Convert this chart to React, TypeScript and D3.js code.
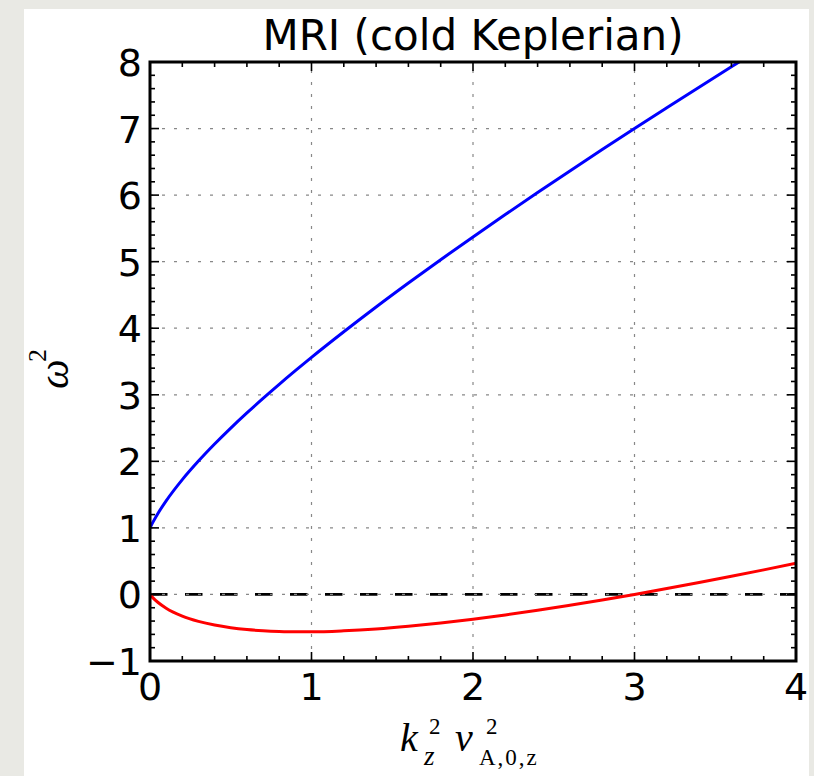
import * as d3 from 'd3';
import React, { useEffect, useRef } from 'react';

// k_z^2 v_A^2 sample points
const kBlue = [0, 0.02, 0.05, 0.1, 0.2, 0.3, 0.4, 0.5, 0.6, 0.7, 0.8, 0.9, 1.0, 1.2, 1.4, 1.6, 1.8, 2.0, 2.2, 2.4, 2.6, 2.8, 3.0, 3.2, 3.4, 3.6, 3.8];
const omegaBlue = [1.0, 1.094, 1.221, 1.406, 1.725, 2.004, 2.26, 2.5, 2.728, 2.946, 3.157, 3.362, 3.562, 3.947, 4.319, 4.679, 5.03, 5.372, 5.708, 6.038, 6.363, 6.684, 7.0, 7.312, 7.622, 7.928, 8.231];

const kRed = [0, 0.02, 0.05, 0.1, 0.2, 0.3, 0.4, 0.5, 0.6, 0.7, 0.8, 0.9, 1.0, 1.2, 1.4, 1.6, 1.8, 2.0, 2.2, 2.4, 2.6, 2.8, 3.0, 3.2, 3.4, 3.6, 3.8, 4.0];
const omegaRed = [0, -0.055, -0.121, -0.206, -0.325, -0.404, -0.46, -0.5, -0.528, -0.546, -0.557, -0.562, -0.562, -0.547, -0.519, -0.479, -0.43, -0.372, -0.308, -0.239, -0.163, -0.084, 0, 0.088, 0.178, 0.272, 0.369, 0.469];

const xTicks = [0, 1, 2, 3, 4];
const yTicks = [-1, 0, 1, 2, 3, 4, 5, 6, 7, 8];

const fmt = (v: number) => (v < 0 ? '\u2212' + Math.abs(v) : String(v));

const Chart = () => {
  const ref = useRef<SVGSVGElement>(null);

  useEffect(() => {
    const svg = d3.select(ref.current);
    svg.selectAll('*').remove();

    const W = 814, H = 776;
    const L = 150, R = 796, T = 62, B = 661;

    const x = d3.scaleLinear().domain([0, 4]).range([L, R]);
    const y = d3.scaleLinear().domain([-1, 8]).range([B, T]);

    svg.append('rect').attr('width', W).attr('height', H).attr('fill', '#e9e9e4');
    svg.append('rect').attr('x', 24).attr('y', 9).attr('width', 785).attr('height', H - 9).attr('fill', '#fff');

    svg.append('defs').append('clipPath').attr('id', 'plotclip')
      .append('rect').attr('x', L).attr('y', T).attr('width', R - L).attr('height', B - T);

    // zero line
    svg.append('line')
      .attr('x1', L).attr('x2', R).attr('y1', y(0)).attr('y2', y(0))
      .attr('stroke', '#000').attr('stroke-width', 2.7).attr('stroke-dasharray', '17.5,17.5');

    // grid
    const grid = svg.append('g').attr('stroke', '#888').attr('stroke-width', 1.2).attr('stroke-dasharray', '3,9');
    xTicks.slice(1, -1).forEach(t => {
      grid.append('line').attr('x1', x(t)).attr('x2', x(t)).attr('y1', B).attr('y2', T);
    });
    yTicks.slice(1, -1).forEach(t => {
      grid.append('line').attr('x1', L).attr('x2', R).attr('y1', y(t)).attr('y2', y(t));
    });

    const line = d3.line<[number, number]>()
      .x(d => x(d[0])).y(d => y(d[1]))
      .curve(d3.curveMonotoneX);

    const plot = svg.append('g').attr('clip-path', 'url(#plotclip)');
    plot.append('path')
      .attr('d', line(kBlue.map((k, i) => [k, omegaBlue[i]]))!)
      .attr('fill', 'none').attr('stroke', '#0000ff').attr('stroke-width', 3);
    plot.append('path')
      .attr('d', line(kRed.map((k, i) => [k, omegaRed[i]]))!)
      .attr('fill', 'none').attr('stroke', '#ff0000').attr('stroke-width', 3);

    // ticks (inward, all sides)
    const ticks = svg.append('g').attr('stroke', '#000').attr('stroke-width', 1.6);
    const xMinor = d3.range(0, 4.0001, 0.2);
    xMinor.forEach(t => {
      const major = Math.abs(t - Math.round(t)) < 1e-6;
      const len = major ? 9 : 5;
      ticks.append('line').attr('x1', x(t)).attr('x2', x(t)).attr('y1', B).attr('y2', B - len);
      ticks.append('line').attr('x1', x(t)).attr('x2', x(t)).attr('y1', T).attr('y2', T + len);
    });
    const yMinor = d3.range(-1, 8.0001, 0.2);
    yMinor.forEach(t => {
      const major = Math.abs(t - Math.round(t)) < 1e-6;
      const len = major ? 9 : 5;
      ticks.append('line').attr('x1', L).attr('x2', L + len).attr('y1', y(t)).attr('y2', y(t));
      ticks.append('line').attr('x1', R).attr('x2', R - len).attr('y1', y(t)).attr('y2', y(t));
    });

    // frame
    svg.append('rect')
      .attr('x', L).attr('y', T).attr('width', R - L).attr('height', B - T)
      .attr('fill', 'none').attr('stroke', '#000').attr('stroke-width', 3);

    const sans = 'DejaVu Sans, sans-serif';
    svg.append('g').selectAll('text').data(xTicks).join('text')
      .attr('x', d => x(d)).attr('y', 700)
      .attr('text-anchor', 'middle').attr('font-family', sans).attr('font-size', 38)
      .text(d => fmt(d));
    svg.append('g').selectAll('text').data(yTicks).join('text')
      .attr('x', 142).attr('y', d => y(d) + 14)
      .attr('text-anchor', 'end').attr('font-family', sans).attr('font-size', 38)
      .text(d => fmt(d));

    svg.append('text')
      .attr('x', (L + R) / 2).attr('y', 50)
      .attr('text-anchor', 'middle').attr('font-family', sans).attr('font-size', 42)
      .text('MRI (cold Keplerian)');

    // x label: k_z^2 v^2_{A,0,z}
    const serif = 'Liberation Serif, serif';
    const xl = svg.append('g').attr('font-family', serif);
    xl.append('text').attr('x', 400).attr('y', 751).attr('font-size', 40).attr('font-style', 'italic').text('k');
    xl.append('text').attr('x', 429).attr('y', 734).attr('font-size', 23).text('2');
    xl.append('text').attr('x', 424).attr('y', 765).attr('font-size', 27).attr('font-style', 'italic').text('z');
    xl.append('text').attr('x', 455).attr('y', 751).attr('font-size', 40).attr('font-style', 'italic').text('v');
    xl.append('text').attr('x', 486).attr('y', 734).attr('font-size', 23).text('2');
    xl.append('text').attr('x', 479).attr('y', 765).attr('font-size', 23).attr('letter-spacing', 2).text('A,0,z');

    // y label: omega^2
    const yl = svg.append('g').attr('transform', 'translate(68,389) rotate(-90)').attr('font-family', serif);
    yl.append('text').attr('x', 0).attr('y', 0).attr('font-size', 42).attr('font-style', 'italic').text('\u03c9');
    yl.append('text').attr('x', 27).attr('y', -22).attr('font-size', 26).text('2');
  }, []);

  return <svg ref={ref} width={814} height={776} style={{ display: 'block' }}></svg>;
};

export default function App() {
  return (
    <div style={{ position: 'fixed', left: 0, top: 0 }}>
      <Chart />
    </div>
  );
}
